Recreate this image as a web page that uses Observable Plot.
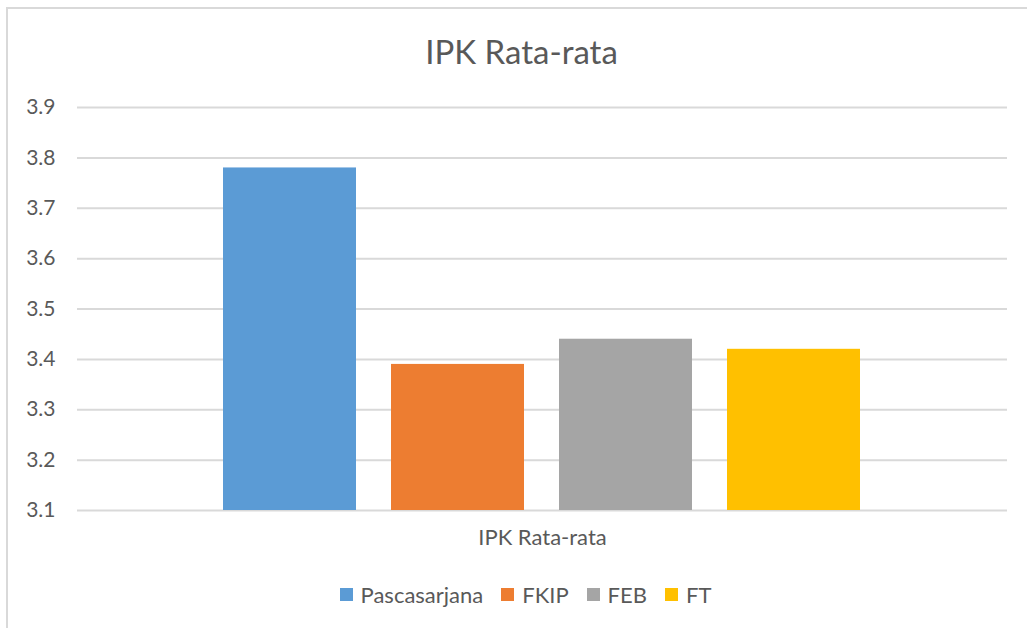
<!DOCTYPE html>
<html><head><meta charset="utf-8">
<script src="https://cdn.jsdelivr.net/npm/d3@7"></script>
<script src="https://cdn.jsdelivr.net/npm/@observablehq/plot@0.6"></script>
<style>
  html,body{margin:0;padding:0;background:#fff;}
  #wrap{position:relative;width:1027px;height:628px;overflow:hidden;font-family:Lato,"Noto Sans",sans-serif;color:#595959;}
  #frame{position:absolute;left:6px;top:7px;width:1040px;height:640px;border-top:2px solid #d9d9d9;border-left:2px solid #d9d9d9;box-sizing:border-box;}
  #title{position:absolute;left:0;top:0;width:1027px;height:90px;display:flex;align-items:flex-start;justify-content:center;}
  #title span{margin-top:31px;font-size:33px;font-weight:400;margin-left:16px;}
  #chart{position:absolute;left:0;top:90px;}
  #legend{position:absolute;left:0;top:581px;width:1027px;display:flex;justify-content:center;font-size:22px;margin-left:12px;}
  .item{display:flex;align-items:center;margin:0 9px;}
  .sw{width:13px;height:13px;margin-right:8px;}
</style>
</head><body>
<div id="wrap">
  <div id="frame"></div>
  <div id="title"><span>IPK Rata-rata</span></div>
  <div id="chart"></div>
  <div id="legend"></div>
</div>
<script>
const categories = ["Pascasarjana", "FKIP", "FEB", "FT"];
const values = [3.78, 3.39, 3.44, 3.42];
const colors = ["#5b9bd5", "#ed7d31", "#a5a5a5", "#ffc000"];
const yTicks = [3.1, 3.2, 3.3, 3.4, 3.5, 3.6, 3.7, 3.8, 3.9];
const groupLabel = "IPK Rata-rata";

const data = categories.map((c, i) => ({cat: c, value: values[i]}));

const chart = Plot.plot({
  width: 1027,
  height: 470,
  marginTop: 17,
  marginBottom: 50,
  marginLeft: 77,
  marginRight: 20,
  style: {fontFamily: "Lato, 'Noto Sans', sans-serif", fontSize: "21px", color: "#595959", background: "transparent"},
  x: {domain: categories, paddingInner: 0.207, paddingOuter: 0.855, axis: null},
  y: {domain: [3.1, 3.9], ticks: yTicks, tickFormat: d3.format(".1f"), label: null, tickSize: 0, tickPadding: 22},
  color: {domain: categories, range: colors},
  marks: [
    Plot.gridY(yTicks, {stroke: "#d9d9d9", strokeOpacity: 1, strokeWidth: 2}),
    Plot.barY(data, {x: "cat", y1: 3.1, y2: "value", fill: "cat"}),
    Plot.axisY(yTicks, {tickSize: 0, tickPadding: 22, tickFormat: d3.format(".1f"), fill: "#595959", fontSize: 21, label: null}),
    Plot.text([groupLabel], {frameAnchor: "bottom", dy: 34, text: d => d, fill: "#595959", fontSize: 22})
  ]
});
document.getElementById("chart").appendChild(chart);

const legend = document.getElementById("legend");
categories.forEach((c, i) => {
  const it = document.createElement("div");
  it.className = "item";
  const sw = document.createElement("div");
  sw.className = "sw";
  sw.style.background = colors[i];
  const t = document.createElement("span");
  t.textContent = c;
  it.appendChild(sw); it.appendChild(t);
  legend.appendChild(it);
});
</script>
</body></html>
